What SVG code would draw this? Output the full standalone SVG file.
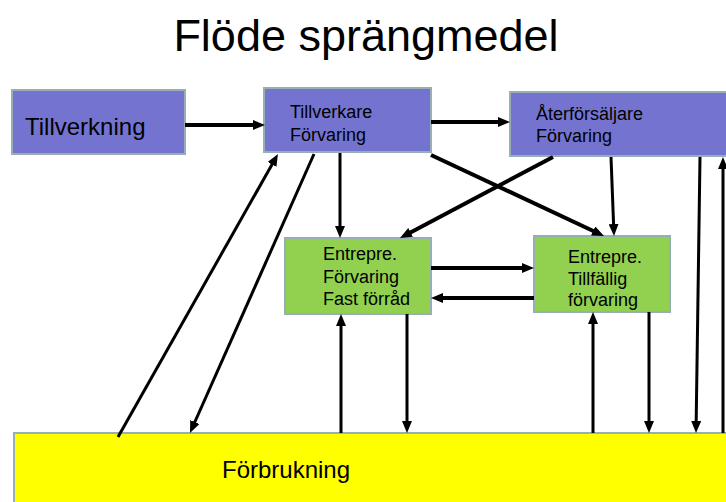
<svg xmlns="http://www.w3.org/2000/svg" width="726" height="502" viewBox="0 0 726 502">
<style>
.purple{fill:#7474D0;stroke:#97AEB4;stroke-width:2}
.green{fill:#92D050;stroke:#97AEB4;stroke-width:2}
.yellow{fill:#FFFF00;stroke:#97AEB4;stroke-width:2}
text{font-family:"Liberation Sans",Arial,sans-serif;fill:#000}
.s{font-size:18px}
.l{font-size:24px}
.c line{stroke:#000;marker-end:url(#ah)}
.t4{stroke-width:4}
.t3{stroke-width:3}
</style>
<defs>
<marker id="ah" markerUnits="userSpaceOnUse" markerWidth="12" markerHeight="10" refX="6" refY="5" orient="auto" viewBox="0 0 12 10">
<path d="M0,0 L12,5 L0,10 z" fill="#000"/>
</marker>
</defs>
<rect width="726" height="502" fill="#fff"/>
<text x="366" y="51" font-size="45" text-anchor="middle">Flöde sprängmedel</text>
<g id="tillverkning">
<rect class="purple" x="12" y="90" width="173" height="64"/>
<text class="l" x="25" y="135">Tillverkning</text>
</g>
<g id="tillverkare">
<rect class="purple" x="264" y="88" width="167" height="64"/>
<text class="s" x="290" y="118">Tillverkare</text>
<text class="s" x="290" y="141">Förvaring</text>
</g>
<g id="aterforsaljare">
<rect class="purple" x="510" y="92" width="222" height="64"/>
<text class="s" x="536" y="120">Återförsäljare</text>
<text class="s" x="536" y="142">Förvaring</text>
</g>
<g id="entrepre-fast">
<rect class="green" x="285" y="238" width="146" height="76"/>
<text class="s" x="323" y="260">Entrepre.</text>
<text class="s" x="323" y="283">Förvaring</text>
<text class="s" x="323" y="305">Fast förråd</text>
</g>
<g id="entrepre-tillfallig">
<rect class="green" x="534" y="236" width="136" height="76"/>
<text class="s" x="568" y="263">Entrepre.</text>
<text class="s" x="568" y="285">Tillfällig</text>
<text class="s" x="568" y="306">förvaring</text>
</g>
<g id="forbrukning">
<rect class="yellow" x="14" y="433" width="720" height="75"/>
<text class="l" x="222" y="478">Förbrukning</text>
</g>
<g id="connectors" class="c">
<line class="t4" x1="185" y1="125" x2="259" y2="125"/>
<line class="t4" x1="431" y1="122" x2="504" y2="122"/>
<line class="t3" x1="340" y1="153" x2="340" y2="232"/>
<line class="t4" x1="431" y1="155" x2="598.6" y2="233.5"/>
<line class="t4" x1="553" y1="157" x2="405.3" y2="235.2"/>
<line class="t3" x1="611" y1="157" x2="613.8" y2="230"/>
<line class="t3" x1="700" y1="157" x2="696.1" y2="427"/>
<line class="t3" x1="723" y1="433" x2="723" y2="163"/>
<line class="t3" x1="118" y1="437" x2="275" y2="159.2"/>
<line class="t3" x1="314" y1="154" x2="192.4" y2="427.5"/>
<line class="t4" x1="431" y1="268" x2="528" y2="268"/>
<line class="t4" x1="534" y1="298" x2="437" y2="298"/>
<line class="t3" x1="341" y1="433" x2="341" y2="320"/>
<line class="t3" x1="407" y1="314" x2="407" y2="427"/>
<line class="t3" x1="593" y1="433" x2="593" y2="318"/>
<line class="t3" x1="649" y1="312" x2="649" y2="427"/>
</g>
</svg>
